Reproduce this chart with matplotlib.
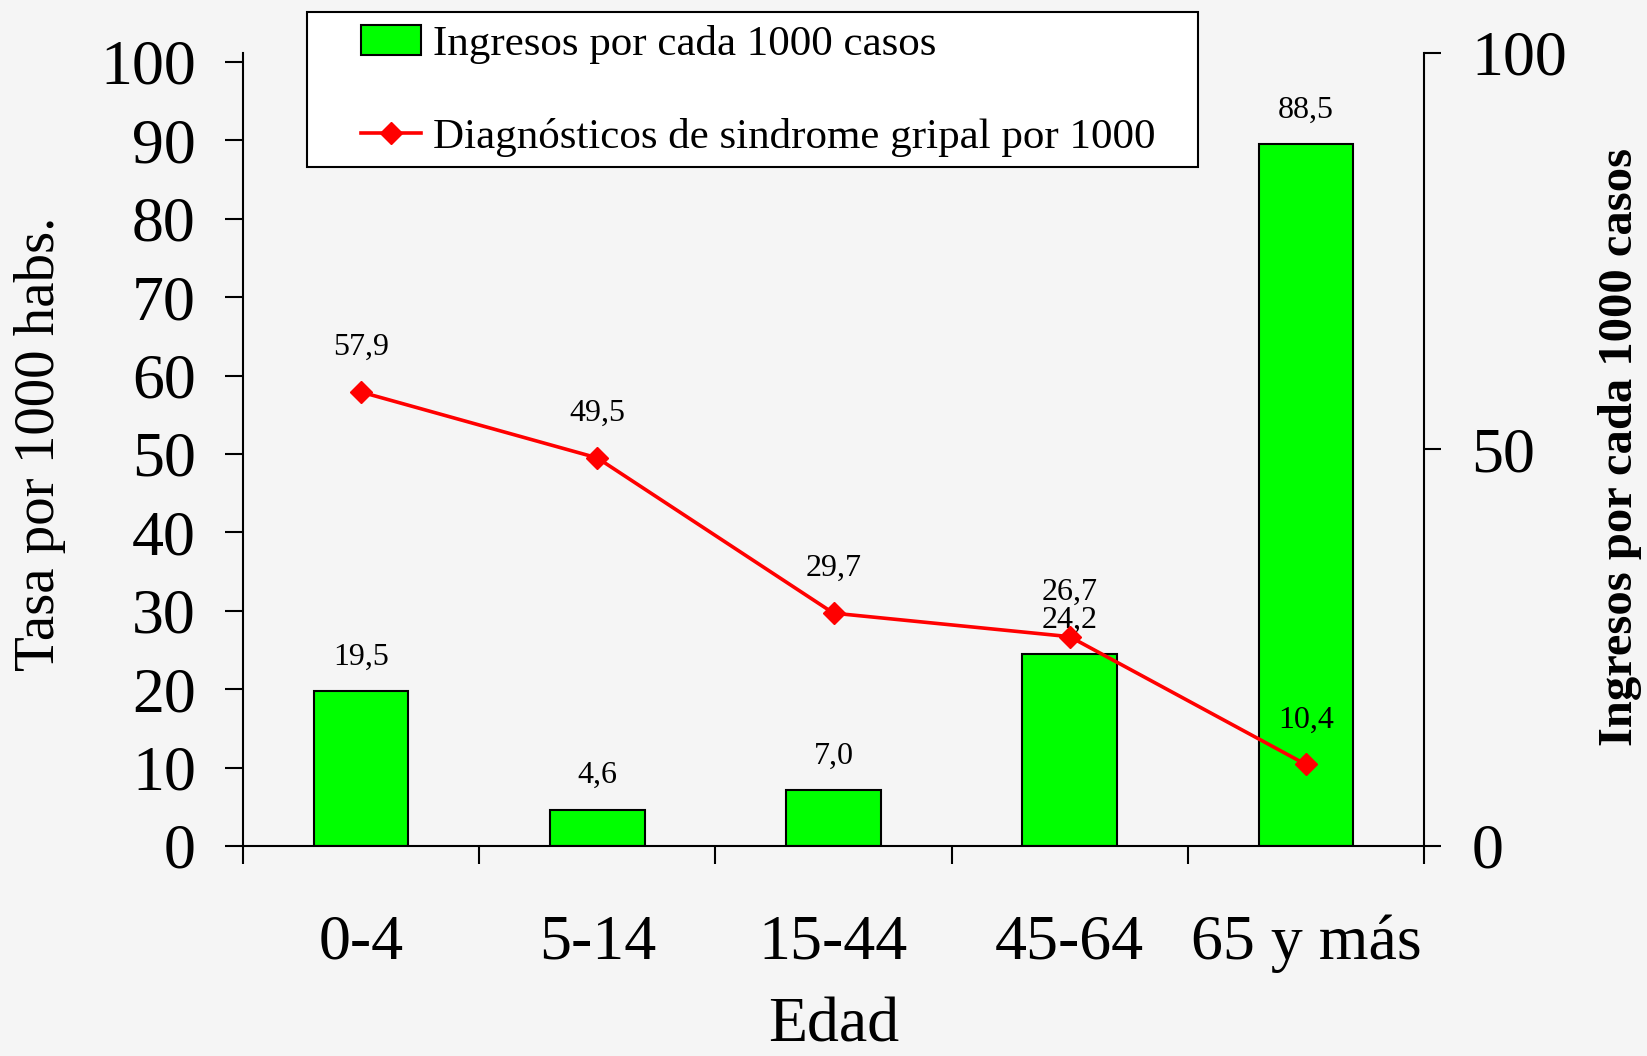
#!/usr/bin/env python3
"""Ingresos y diagnósticos de síndrome gripal por grupo de edad."""

import matplotlib

matplotlib.use("Agg")
import matplotlib.pyplot as plt
from matplotlib.lines import Line2D
from matplotlib.patches import Patch, Rectangle
from matplotlib.ticker import FixedLocator, NullFormatter

grupos = ["0-4", "5-14", "15-44", "45-64", "65 y más"]
ingresos = [19.5, 4.6, 7.0, 24.2, 88.5]          # eje derecho (barras)
diagnosticos = [57.9, 49.5, 29.7, 26.7, 10.4]    # eje izquierdo (línea)
ticks_izq = [0, 10, 20, 30, 40, 50, 60, 70, 80, 90, 100]
ticks_der = [0, 50, 100]

BG = "#f5f5f5"
VERDE = "#00ff00"
ROJO = "#ff0000"


def coma(v: float) -> str:
    return f"{v:.1f}".replace(".", ",")


def main() -> int:
    plt.rcParams["font.family"] = ["Liberation Serif", "DejaVu Serif"]

    W, H = 1647, 1056
    fig = plt.figure(figsize=(W / 100, H / 100), dpi=100, facecolor=BG)
    left, right, top, bottom = 243, 1424, 53, 846
    ax = fig.add_axes([left / W, 1 - bottom / H, (right - left) / W, (bottom - top) / H])
    ax2 = ax.twinx()
    ax.set_zorder(ax2.get_zorder() + 1)
    ax.patch.set_visible(False)
    ax2.patch.set_visible(False)

    x = list(range(len(grupos)))
    ax2.bar(x, ingresos, width=0.4, color=VERDE, edgecolor="black", linewidth=1.5)
    ax.plot(x, diagnosticos, color=ROJO, lw=2.6, marker="D", ms=11,
            markeredgecolor=ROJO, clip_on=False)

    for xi, v in zip(x, ingresos):
        ax2.annotate(coma(v), (xi, v), xytext=(0, 24.5), textcoords="offset points",
                     ha="center", va="center", fontsize=23)
    for xi, v in zip(x, diagnosticos):
        ax.annotate(coma(v), (xi, v), xytext=(0, 32), textcoords="offset points",
                    ha="center", va="center", fontsize=23)

    ax.set_xlim(-0.5, len(grupos) - 0.5)
    ax.set_ylim(0, 100 * (bottom - top) / (bottom - 62))
    ax2.set_ylim(0, 100)

    # ejes
    for a in (ax, ax2):
        a.spines["top"].set_visible(False)
        for s in a.spines.values():
            s.set_linewidth(1.5)
    ax.spines["right"].set_visible(False)
    ax2.spines["left"].set_visible(False)
    ax2.spines["bottom"].set_visible(False)

    ax.xaxis.set_major_locator(FixedLocator([i - 0.5 for i in range(len(grupos) + 1)]))
    ax.xaxis.set_major_formatter(NullFormatter())
    ax.xaxis.set_minor_locator(FixedLocator(x))
    ax.set_xticklabels(grupos, minor=True)
    ax.tick_params(axis="x", which="major", direction="out", length=13, width=1.5)
    ax.tick_params(axis="x", which="minor", length=0, pad=49, labelsize=46)

    ax.set_yticks(ticks_izq)
    ax.tick_params(axis="y", direction="out", length=13, width=1.5, pad=21, labelsize=46)
    ax2.set_yticks(ticks_der)
    ax2.tick_params(axis="y", direction="out", length=12, width=1.5, pad=22, labelsize=46)

    ax.set_xlabel("Edad", fontsize=46)
    ax.xaxis.set_label_coords(0.5, -0.228)
    ax.xaxis.label.set_verticalalignment("center")

    ax.set_ylabel("Tasa por 1000 habs.", fontsize=41)
    ax.yaxis.set_label_coords(-0.172, 0.507)
    ax.yaxis.label.set_verticalalignment("center")

    ax2.set_ylabel("Ingresos por cada 1000 casos", fontsize=35, fontweight="bold")
    ax2.yaxis.set_label_coords(1.166, 0.503)
    ax2.yaxis.label.set_verticalalignment("center")

    # leyenda con marco propio
    fig.patches.append(Rectangle((307 / W, 1 - 167 / H), (1198 - 307) / W, (167 - 12) / H,
                                 transform=fig.transFigure, facecolor="white",
                                 edgecolor="black", linewidth=1.5, zorder=1))
    handles = [
        Patch(facecolor=VERDE, edgecolor="black", linewidth=1.5),
        Line2D([], [], color=ROJO, lw=2.6, marker="D", ms=11),
    ]
    fig.legend(handles, ["Ingresos por cada 1000 casos",
                         "Diagnósticos de sindrome gripal por 1000"],
               loc="center left", bbox_to_anchor=(361 / W, 1 - 91 / H),
               frameon=False, fontsize=31, borderpad=0, borderaxespad=0,
               handlelength=1.4, handletextpad=0.28, labelspacing=1.25)

    fig.savefig("out.png", dpi=100, facecolor=BG)
    return 0


if __name__ == "__main__":
    raise SystemExit(main())
